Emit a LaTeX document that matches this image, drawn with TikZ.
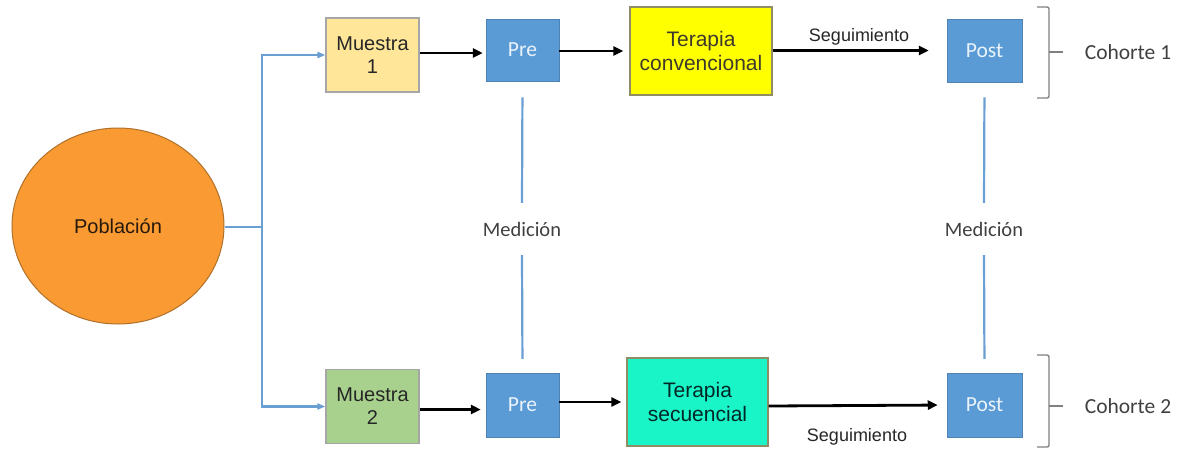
\documentclass[tikz,border=0pt]{standalone}
\usepackage{fontspec}
\setmainfont{Liberation Sans}
\newfontfamily\carl{Carlito}
\usetikzlibrary{arrows.meta,shapes.geometric,calc}
\definecolor{boxblue}{HTML}{5B9BD5}
\definecolor{linkblue}{HTML}{6A9FD4}
\definecolor{mues1}{HTML}{FFE699}
\definecolor{mues2}{HTML}{A9D18E}
\definecolor{terconv}{HTML}{FFFF00}
\definecolor{tersec}{HTML}{1AF5C8}
\definecolor{popfill}{HTML}{F99A32}
\definecolor{popdraw}{HTML}{B0702A}
\definecolor{bracegray}{HTML}{808080}
\definecolor{txtgray}{HTML}{404040}
\tikzset{
  x=1pt, y=-1pt,
  sample/.style={draw=gray!70, line width=1.2pt, minimum width=93pt, minimum height=74pt, inner sep=0pt, align=center, font=\fontsize{20}{23}\selectfont, text=black!85},
  measure/.style={fill=boxblue, draw=boxblue!85!black, line width=0.5pt, inner sep=0pt, font=\carl\fontsize{21.5}{24}\selectfont, text=white!88!boxblue},
  therapy/.style={draw=gray!70!olive, line width=1.2pt, minimum width=142pt, minimum height=88pt, inner sep=0pt, align=center, font=\fontsize{21}{24}\selectfont},
  blk/.style={line width=2.8pt, black, -{Triangle[length=10pt,width=9pt]}},
  bluelink/.style={line width=2.2pt, linkblue},
  bluearrow/.style={bluelink, -{Triangle[length=8pt,width=6pt]}},
  lbl/.style={font=\fontsize{18}{20}\selectfont, text=black!85, inner sep=0pt},
  medlbl/.style={font=\carl\fontsize{20.5}{22}\selectfont, text=txtgray, inner sep=0pt, minimum height=52pt},
  cohlbl/.style={font=\carl\fontsize{21.5}{24}\selectfont, text=txtgray, inner sep=0pt},
  bracket/.style={draw=bracegray, line width=1.4pt}
}
\begin{document}
\begin{tikzpicture}
\useasboundingbox (0,0) rectangle (1191,448);
% population
\node[ellipse, fill=popfill, draw=popdraw, line width=1pt, minimum width=212pt, minimum height=196pt, inner sep=0pt, font=\fontsize{20}{22}\selectfont, text=black!80!brown] (pob) at (118,226) {Población};
\coordinate (j) at (262,227);
% samples
\node[sample, fill=mues1] (m1) at (372.5,55) {Muestra\\1};
\node[sample, fill=mues2] (m2) at (372.5,406.5) {Muestra\\2};
% pre
\node[measure, minimum width=73pt, minimum height=62pt] (pre1) at (522.5,50) {Pre};
\node[measure, minimum width=73pt, minimum height=64pt] (pre2) at (522.5,405) {Pre};
% therapies
\node[therapy, fill=terconv, text=black!75!olive] (t1) at (701,51) {Terapia\\convencional};
\node[therapy, fill=tersec, minimum width=141pt, text=black!70!teal] (t2) at (697.5,402) {Terapia\\secuencial};
% post
\node[measure, minimum width=75pt, minimum height=63pt] (post1) at (984.5,50.5) {Post};
\node[measure, minimum width=75pt, minimum height=64pt] (post2) at (984.5,405) {Post};
% medicion labels
\node[medlbl] (med1) at (522,229) {Medición};
\node[medlbl] (med2) at (984,229) {Medición};
% cohort labels
\node[cohlbl] (c1) at (1128,52) {Cohorte 1};
\node[cohlbl] (c2) at (1128,406) {Cohorte 2};
% brace anchor coordinates
\coordinate (bx) at (1049,0);
\coordinate (b1t) at (1037,7);
\coordinate (b1m) at (1063,52);
\coordinate (b1b) at (1037,98);
\coordinate (b2t) at (1037,355);
\coordinate (b2m) at (1063,406);
\coordinate (b2b) at (1037,447);
% blue connectors
\draw[bluelink] (pob.east |- j) -- (j);
\draw[bluearrow] (j) |- (m1.west);
\draw[bluearrow] (j) |- (m2.west);
% black arrows
\draw[blk, shorten >=3pt] ($(m1.east)+(0,-2)$) -- ($(m1.east -| pre1.west)+(0,-2)$);
\draw[blk, shorten >=6pt] (pre1.east |- t1.west) -- (t1.west);
\draw[blk, shorten >=18pt] (t1.east |- post1.west) -- (post1.west);
\draw[blk, shorten >=5pt] ($(m2.east)+(0,3)$) -- ($(m2.east -| pre2.west)+(0,3)$);
\draw[blk, shorten >=5pt] (pre2.east |- t2.west) -- (t2.west);
\draw[blk, shorten >=9pt] ($(t2.east)+(0,4)$) -- (post2.west);
% seguimiento labels
\node[lbl] (s1) at (859,37) {Seguimiento};
\node[lbl] (s2) at (857,437) {Seguimiento};
% vertical measurement lines
\draw[bluelink, shorten <=16pt] (pre1.south) -- (med1.north);
\draw[bluelink, shorten >=14pt] (med1.south) -- (pre2.north);
\draw[bluelink, shorten <=15pt] (post1.south) -- (med2.north);
\draw[bluelink, shorten >=14pt] (med2.south) -- (post2.north);
% brackets
\draw[bracket, rounded corners=2pt] (b1t) -- (b1t -| bx) -- (b1b -| bx) -- (b1b);
\draw[bracket] (bx |- b1m) -- (b1m);
\draw[bracket, rounded corners=2pt] (b2t) -- (b2t -| bx) -- (b2b -| bx) -- (b2b);
\draw[bracket] (bx |- b2m) -- (b2m);
\end{tikzpicture}
\end{document}
